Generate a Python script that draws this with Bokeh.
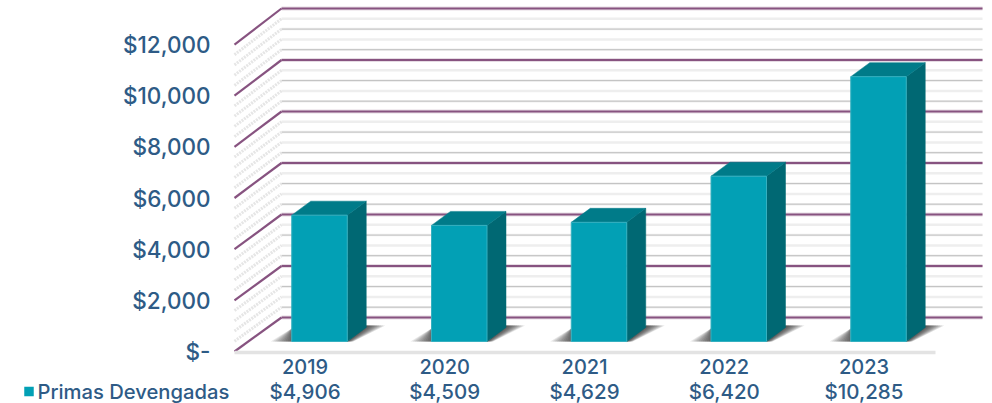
from bokeh.plotting import figure
from bokeh.embed import file_html
from bokeh.resources import INLINE
from bokeh.core.properties import value

# ---- data ----
years = ["2019", "2020", "2021", "2022", "2023"]
primas = [4906, 4509, 4629, 6420, 10285]
value_labels = ["$4,906", "$4,509", "$4,629", "$6,420", "$10,285"]
major_ticks = [0, 2000, 4000, 6000, 8000, 10000, 12000]
major_labels = ["$-", "$2,000", "$4,000", "$6,000", "$8,000", "$10,000", "$12,000"]
minor_step = 400
series_name = "Primas Devengadas"

# ---- scale (pixels per data unit) ----
PXX = 139.75      # px per category
PXY = 0.02575     # px per value unit
dx = lambda px: px / PXX
dy = lambda px: px / PXY

X0_SCREEN, Y0_SCREEN = 319, 341   # first bar centre, bar base
W, H = 992, 403
x_start = -X0_SCREEN / PXX
y_start = -(H - Y0_SCREEN) / PXY

TEXT = "#2E5B86"
FONT = value("Inter Medium, Inter")

p = figure(width=W, height=H, output_backend="svg", toolbar_location=None,
           x_range=(x_start, x_start + W / PXX),
           y_range=(y_start, y_start + H / PXY),
           min_border=0, outline_line_color=None)
p.axis.visible = False
p.grid.visible = False
p.background_fill_color = "white"
p.border_fill_color = "white"

# wall / side geometry (in category + value units, relative to the bar plane)
wall_l = dx(281 - X0_SCREEN)
wall_r = dx(982 - X0_SCREEN)
front_l = dx(234 - X0_SCREEN)
floor_r = dx(935 - X0_SCREEN)
wall_up = dy(24)
front_dn = dy(-10)
FRONT_K = 0.9935   # the front edge is slightly foreshortened
front_y = lambda v: v * FRONT_K + front_dn

all_minor = [v * minor_step for v in range(0, 31) if (v * minor_step) % 2000 != 0]

# minor gridlines (wall and side)
for n, v in enumerate(all_minor):
    if n % 2:
        p.line([wall_l, wall_r], [v + wall_up] * 2, line_color="#eeeeee", line_width=2.5)
    else:
        p.line([wall_l, wall_r], [v + wall_up] * 2, line_color="#f0f0f0", line_width=2.5)
        p.line([wall_l, wall_r], [v + wall_up] * 2, line_color="#bfbfbf", line_width=1)
    p.line([front_l, wall_l], [front_y(v), v + wall_up], line_color="#e6e6e6", line_width=3, line_dash="2 1")

# major gridlines
for v in major_ticks:
    p.line([wall_l, wall_r], [v + wall_up] * 2, line_color="#e6dce4", line_width=4)
    p.line([wall_l, wall_r], [v + wall_up] * 2, line_color="#875380", line_width=2.2)
    p.line([front_l, wall_l], [front_y(v), v + wall_up], line_color="#875380", line_width=2.2)

# floor front strip
p.line([front_l, floor_r], [front_dn - dy(1)] * 2, line_color="#e3e3e3", line_width=3.5)

# bars
BAR = dx(55.5)
DX, DY = dx(19), dy(14)
LAYERS = 10
for i, v in enumerate(primas):
    l, r = i - BAR / 2, i + BAR / 2
    # shadows: stacked translucent wedges to imitate the soft falloff
    for k in range(LAYERS):
        f = (k + 1) / LAYERS
        p.patch([r, r + DX, r + DX + dx(19) * f, r + dx(6) * f],
                [0, dy(16), dy(16), 0],
                fill_color="#222222", fill_alpha=0.13, line_color=None)
        p.patch([l, l - dx(21) * f, l],
                [0, 0, dy(13)],
                fill_color="#222222", fill_alpha=0.10, line_color=None)
    # side, top, front
    p.patch([r, r + DX, r + DX, r], [0, DY, v + DY, v],
            fill_color="#006873", line_color="#006873", line_width=0.5)
    p.patch([l, r, r + DX, l + DX], [v, v, v + DY, v + DY],
            fill_color="#007B89", line_color="#007B89", line_width=0.5)
    p.quad(left=l, right=r, bottom=0, top=v, fill_color="#02A0B5",
           line_color="#35B0C0", line_width=1)

# value axis labels
tick_x = dx(210 - X0_SCREEN)
p.text([tick_x] * len(major_ticks), [front_y(v) for v in major_ticks], text=major_labels,
       text_font=FONT, text_font_size="22.5px", text_color=TEXT,
       text_align="right", text_baseline="middle")

# category + data-table rows
row1 = dy(Y0_SCREEN - 366)
row2 = dy(Y0_SCREEN - 391)
xs = list(range(len(years)))
p.text([x - dx(14.5) for x in xs], [row1] * 5, text=years, text_font=FONT, text_font_size="20px",
       text_color=TEXT, text_align="center", text_baseline="middle")
p.text([x - dx(14.5) for x in xs], [row2] * 5, text=value_labels, text_font=FONT, text_font_size="20.5px",
       text_color=TEXT, text_align="center", text_baseline="middle")

# legend key + name
p.scatter([dx(28.5 - X0_SCREEN)], [row2], marker="square", size=9.5,
          fill_color="#02A0B5", line_color=None)
p.text([dx(37 - X0_SCREEN)], [row2], text=[series_name], text_font=FONT, text_font_size="20.2px",
       text_color=TEXT, text_align="left", text_baseline="middle")

open("out.html", "w").write(file_html(p, INLINE))
